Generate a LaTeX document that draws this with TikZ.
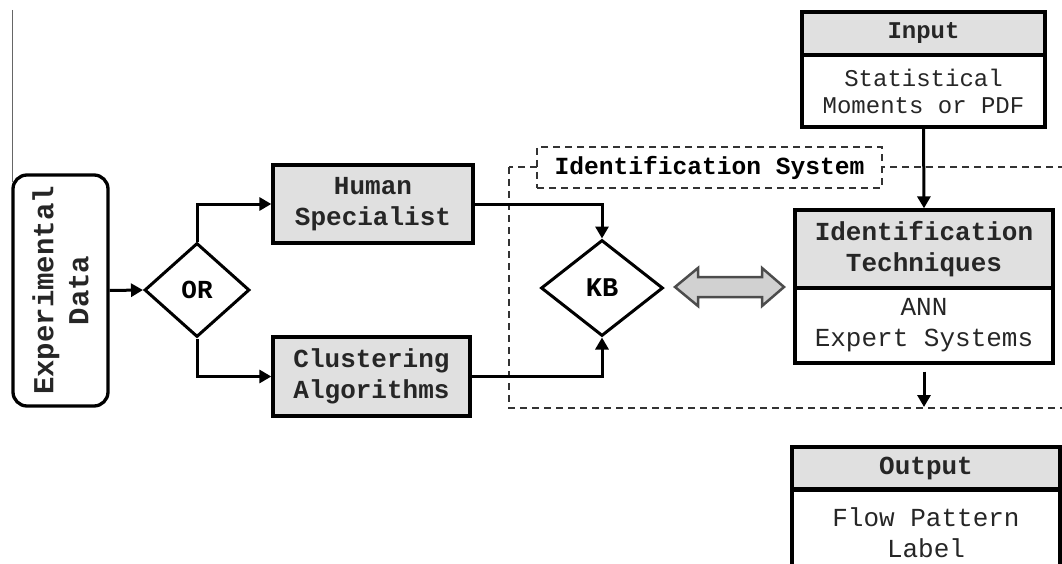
\documentclass[tikz,border=0pt]{standalone}
\usepackage{fontspec}
\setmainfont{Liberation Mono}
\usetikzlibrary{arrows.meta,shapes.geometric}
\tikzset{
  box/.style={draw, line width=3.3pt, rectangle, inner sep=0pt, align=center, text=black!85},
  headbox/.style={box, fill=black!12, font=\fontsize{26}{31}\selectfont\bfseries},
  bodybox/.style={box, fill=white, font=\fontsize{26}{31}\selectfont},
  dia/.style={draw, diamond, line width=3pt, inner sep=0pt, font=\fontsize{26}{31}\selectfont\bfseries},
  conn/.style={line width=3pt, -{Triangle[length=12pt,width=13pt]}},
  sysline/.style={line width=1.5pt, dash pattern=on 7pt off 5pt, draw=black!80},
}
\begin{document}
\begin{tikzpicture}[x=1pt,y=-1pt]
\useasboundingbox (0,0) rectangle (1062,564);
% thin left margin line
\draw[black!60, line width=1pt] (12,10) -- (12,182);

% identification system frame
\draw[sysline] (509,167) rectangle (1080,408);
\node[sysline, draw, fill=white, rectangle, minimum width=345, minimum height=41, inner sep=0pt,
      font=\fontsize{24.6}{28}\selectfont\bfseries] (sys) at (709.5,167.5) {Identification System};

% nodes
\node[box, rounded corners=14pt, rotate=90, minimum width=231, minimum height=95,
      font=\fontsize{29}{35}\selectfont\bfseries] (exp) at (60.5,290.5) {Experimental\\Data};
\node[dia, minimum width=105, minimum height=94] (or) at (197,290) {OR};
\node[headbox, minimum width=200, minimum height=78] (human) at (373,204) {Human\\Specialist};
\node[headbox, minimum width=197, minimum height=79] (clust) at (371.5,376.5) {Clustering\\Algorithms};
\node[dia, minimum width=122, minimum height=96, font=\fontsize{27}{31}\selectfont\bfseries] (kb) at (602,288) {KB};

\node[headbox, minimum width=243, minimum height=43, font=\fontsize{24}{27}\selectfont\bfseries] (inhead) at (923.5,33.5) {Input};
\node[bodybox, minimum width=243, minimum height=72, font=\fontsize{24}{27}\selectfont] (inbody) at (923.5,91) {Statistical\\Moments or PDF};

\node[headbox, minimum width=258, minimum height=78] (idhead) at (924,249) {Identification\\Techniques};
\node[bodybox, minimum width=258, minimum height=75] (idbody) at (924,325.5) {ANN\\Expert Systems};

\node[headbox, minimum width=268, minimum height=42] (outhead) at (926,468) {Output};
\node[bodybox, minimum width=268, minimum height=84, anchor=north] (outbody) at (926,489) {Flow Pattern\\Label};

\coordinate (idout) at (924,407);

% connectors
\draw[conn] (exp.south) -- (or.west);
\draw[conn] (or.north) |- (human.west);
\draw[conn] (or.south) |- (clust.west);
\draw[conn] (human.east) -| (kb.north);
\draw[conn] (clust.east) -| (kb.south);
\draw[conn] (inbody.south) -- (idhead.north);
\draw[conn, shorten <=7pt] (idbody.south) -- (idout);

% double arrow between KB and identification techniques
\draw[line width=2.5pt, draw=black!70, fill=black!18, line join=miter]
  (675,287) -- (698,268) -- (698,277) -- (762,277) -- (762,268) -- (784,287)
  -- (762,306) -- (762,297) -- (698,297) -- (698,306) -- cycle;
\end{tikzpicture}
\end{document}
